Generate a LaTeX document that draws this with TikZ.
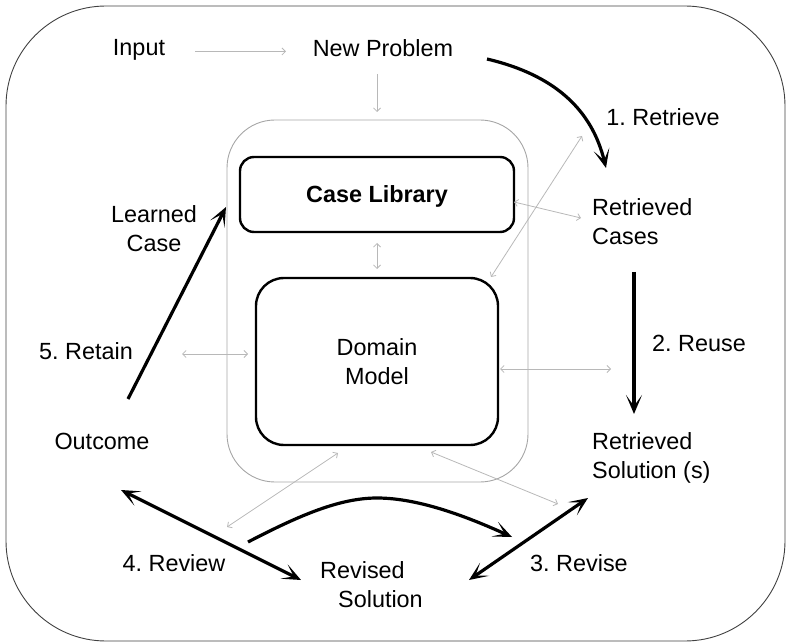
\documentclass[tikz,border=0pt]{standalone}
\usepackage{fontspec}
\setmainfont{Liberation Sans}
\usetikzlibrary{arrows.meta}
\frenchspacing
\begin{document}
\begin{tikzpicture}[x=1pt,y=-1pt,
  every node/.style={font=\fontsize{23.4pt}{29pt}\selectfont, inner sep=0pt, text depth=0pt},
  thin/.style={draw=black!28, line width=0.8pt},
  thintip/.style={thin, -{Straight Barb[length=3.5pt,width=7pt]}},
  thinboth/.style={thin, {Straight Barb[length=3.5pt,width=7pt]}-{Straight Barb[length=3.5pt,width=7pt]}},
  thick/.style={draw=black, line width=3.2pt, -{Stealth[length=19pt,width=16pt,inset=11pt]}},
  thickboth/.style={draw=black, line width=3.2pt, {Stealth[length=19pt,width=16pt,inset=11pt]}-{Stealth[length=19pt,width=16pt,inset=11pt]}},
  box/.style={draw=black, line width=2.4pt}
]
\useasboundingbox (0,0) rectangle (790,644);
% outer frame
\node[draw=black!75, line width=0.9pt, rounded corners=100pt, minimum width=779pt, minimum height=635pt] (frame) at (395.5,323.5) {};
% container
\node[draw=black!35, line width=0.9pt, rounded corners=48pt, minimum width=301pt, minimum height=362pt] (cont) at (377.5,301) {};
% boxes
\node[box, rounded corners=14pt, minimum width=274pt, minimum height=75pt, font=\fontsize{23.4pt}{29pt}\selectfont\bfseries] (lib) at (377,194.5) {Case Library};
\node[box, rounded corners=28pt, minimum width=242pt, minimum height=167pt, align=center] (dom) at (377,361.5) {Domain\\Model};

% texts
\node (input) at (139,47) {Input};
\node (newp) at (383,48) {New Problem};
\node (retr) at (663,117) {1. Retrieve};
\node[anchor=west, align=left] (rcases) at (592,221.5) {Retrieved\\Cases};
\node (reuse) at (699,343) {2. Reuse};
\node[anchor=west, align=left] (rsol) at (592,455.5) {Retrieved\\Solution (s)};
\node (revise) at (579,563) {3. Revise};
\node[anchor=west, align=left] (revsol) at (320,584.5) {Revised\\\hspace*{18pt}Solution};
\node (review) at (174,563) {4. Review};
\node (outc) at (102,441) {Outcome};
\node (retain) at (86,351) {5. Retain};
\node[align=center] (learned) at (154,229) {Learned\\Case};

% coordinates for connector ends
\coordinate (c1a) at (195,51.5); \coordinate (c1b) at (286,51.5);
\coordinate (c2a) at (377,74);   \coordinate (c2b) at (377,112);
\coordinate (c3a) at (377,243);  \coordinate (c3b) at (377,269);
\coordinate (c4a) at (514,202);  \coordinate (c4b) at (581,218);
\coordinate (c5a) at (491,277);  \coordinate (c5b) at (582,136);
\coordinate (c6a) at (182,354);  \coordinate (c6b) at (248,354);
\coordinate (c7a) at (500,369);  \coordinate (c7b) at (611,369);
\coordinate (c8a) at (338,453);  \coordinate (c8b) at (227,527);
\coordinate (c9a) at (431,452);  \coordinate (c9b) at (558,504);

% thin connectors
\draw[thintip] (c1a) -- (c1b);
\draw[thintip] (c2a) -- (c2b);
\draw[thinboth] (c3a) -- (c3b);
\draw[thinboth] (c4a) -- (c4b);
\draw[thinboth] (c5a) -- (c5b);
\draw[thinboth] (c6a) -- (c6b);
\draw[thinboth] (c7a) -- (c7b);
\draw[thinboth] (c8a) -- (c8b);
\draw[thinboth] (c9a) -- (c9b);

% thick connectors
\coordinate (t1a) at (487,59);  \coordinate (t1b) at (606,168);
\coordinate (t2a) at (634,272); \coordinate (t2b) at (634,414);
\coordinate (t3a) at (588,498); \coordinate (t3b) at (469,580);
\coordinate (t4a) at (121,490); \coordinate (t4b) at (301,580);
\coordinate (t5a) at (248,542); \coordinate (t5m) at (377,498); \coordinate (t5b) at (512,537);
\coordinate (t6a) at (128,399); \coordinate (t6b) at (226,207);

\draw[thick] (t1a) .. controls (555,75) and (592,110) .. (t1b);
\draw[thick] (t2a) -- (t2b);
\draw[thickboth] (t3a) -- (t3b);
\draw[thickboth] (t4a) -- (t4b);
\draw[thick] (t5a) .. controls (300,515) and (340,498) .. (t5m) .. controls (420,498) and (470,518) .. (t5b);
\draw[thick] (t6a) -- (t6b);
\end{tikzpicture}
\end{document}
